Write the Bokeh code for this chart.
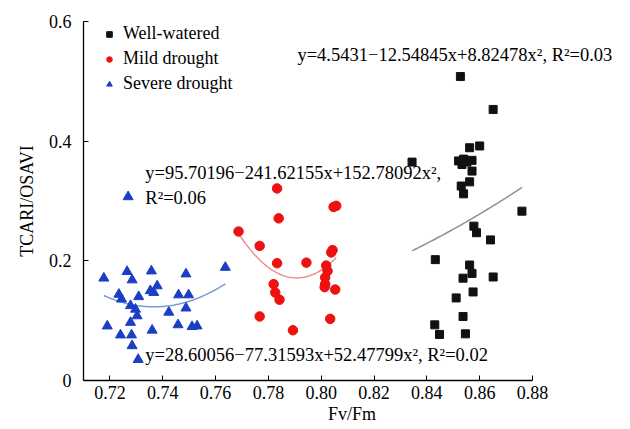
import numpy as np
from bokeh.plotting import figure
from bokeh.models import (Range1d, FixedTicker, PrintfTickFormatter, Label, Legend, LegendItem)
from bokeh.embed import file_html
from bokeh.resources import INLINE

# ---- data ----
ww_x = [0.8527, 0.8651, 0.8562, 0.8600, 0.8344, 0.8520, 0.8539, 0.8552, 0.8571, 0.8533,
        0.8571, 0.8562, 0.8530, 0.8539, 0.8578, 0.8588, 0.8641, 0.8432, 0.8562, 0.8571,
        0.8537, 0.8651, 0.8575, 0.8511, 0.8537, 0.8430, 0.8448, 0.8546, 0.8760]
ww_y = [0.508, 0.453, 0.389, 0.392, 0.365, 0.367, 0.370, 0.365, 0.368, 0.361,
        0.350, 0.332, 0.325, 0.312, 0.258, 0.247, 0.235, 0.202, 0.193, 0.179,
        0.171, 0.173, 0.148, 0.138, 0.107, 0.093, 0.077, 0.078, 0.283]

md_x = [0.7833, 0.8047, 0.8057, 0.7839, 0.7687, 0.7767, 0.8038, 0.8043, 0.7833, 0.7944,
        0.8019, 0.8024, 0.8015, 0.8015, 0.8013, 0.8053, 0.7820, 0.7826, 0.7842, 0.7767,
        0.8034, 0.7893]
md_y = [0.321, 0.290, 0.292, 0.271, 0.249, 0.225, 0.214, 0.218, 0.196, 0.197,
        0.192, 0.183, 0.172, 0.161, 0.156, 0.152, 0.161, 0.147, 0.135, 0.107,
        0.103, 0.084]

sd_x = [0.7269, 0.7177, 0.7265, 0.7284, 0.7357, 0.7488, 0.7637, 0.7234, 0.7244, 0.7309,
        0.7353, 0.7379, 0.7366, 0.7460, 0.7498, 0.7278, 0.7297, 0.7303, 0.7423, 0.7488,
        0.7278, 0.7190, 0.7360, 0.7458, 0.7511, 0.7530, 0.7240, 0.7282, 0.7284, 0.7307]
sd_y = [0.307, 0.171, 0.182, 0.168, 0.183, 0.178, 0.189, 0.144, 0.136, 0.140,
        0.150, 0.158, 0.147, 0.143, 0.143, 0.125, 0.119, 0.108, 0.114, 0.121,
        0.097, 0.091, 0.084, 0.093, 0.090, 0.091, 0.076, 0.076, 0.058, 0.035]

# quadratic fit coefficients printed on the chart (c0, c1, c2)
ww_coef = [4.5431, -12.54845, 8.82478]
md_coef = [95.70196, -241.62155, 152.78092]
sd_coef = [28.60056, -77.31593, 52.47799]

ww_eq = "y=4.5431\u221212.54845x+8.82478x\u00b2, R\u00b2=0.03"
md_eq = "y=95.70196\u2212241.62155x+152.78092x\u00b2,"
md_r2 = "R\u00b2=0.06"
sd_eq = "y=28.60056\u221277.31593x+52.47799x\u00b2, R\u00b2=0.02"

series_names = ["Well-watered", "Mild drought", "Severe drought"]
x_ticks = [0.72, 0.74, 0.76, 0.78, 0.80, 0.82, 0.84, 0.86, 0.88]
y_ticks = [0, 0.2, 0.4, 0.6]

FONT = "Liberation Serif"

# frame extends to the right so the top-right equation is not clipped;
# the visible x axis stops at 0.88 via axis bounds
p = figure(width=630, height=429, output_backend="svg", toolbar_location=None,
           x_range=Range1d(0.71, 0.71 + 537 * 0.17 / 449), y_range=Range1d(0, 0.6),
           min_border_left=83, min_border_right=10, min_border_top=21, min_border_bottom=49)
p.outline_line_color = None
p.xgrid.visible = False
p.ygrid.visible = False
p.background_fill_color = "white"

def fit_curve(xs, coef):
    cx = np.linspace(min(xs), max(xs), 80)
    cy = coef[0] + coef[1] * cx + coef[2] * cx ** 2
    return cx, cy

for xs, coef, col in [(ww_x, ww_coef, "#8f8f8f"), (md_x, md_coef, "#ee8f8f"), (sd_x, sd_coef, "#7399d8")]:
    cx, cy = fit_curve(xs, coef)
    p.line(cx, cy, line_color=col, line_width=1.5)

r_ww = p.scatter(ww_x, ww_y, marker="square", size=8, fill_color="#111111", line_color="#111111")
r_md = p.scatter(md_x, md_y, marker="circle", size=9.5, fill_color="#ee1111", line_color="#ee1111")
r_sd = p.scatter(sd_x, sd_y, marker="triangle", size=10, fill_color="#1b3fc4", line_color="#1b3fc4")

legend = Legend(items=[LegendItem(label=series_names[0], renderers=[r_ww]),
                       LegendItem(label=series_names[1], renderers=[r_md]),
                       LegendItem(label=series_names[2], renderers=[r_sd])],
                location=(19, 284), margin=0, padding=0, spacing=0,
                glyph_width=14, glyph_height=14, label_height=25, label_standoff=7,
                border_line_color=None, background_fill_alpha=0,
                label_text_font=FONT, label_text_font_size="18px", label_text_color="black")
p.add_layout(legend)

# axes
for ax in [p.xaxis[0], p.yaxis[0]]:
    ax.axis_line_color = "black"
    ax.axis_line_width = 1.3
    ax.major_tick_line_color = "black"
    ax.major_tick_in = 5
    ax.major_tick_out = 0
    ax.minor_tick_line_color = None
    ax.major_label_text_font = FONT
    ax.major_label_text_font_size = "18px"
    ax.major_label_text_color = "black"
    ax.axis_label_text_font = FONT
    ax.axis_label_text_font_size = "18px"
    ax.axis_label_text_font_style = "normal"
    ax.axis_label_text_color = "black"

p.xaxis.ticker = FixedTicker(ticks=x_ticks)
p.xaxis.formatter = PrintfTickFormatter(format="%.2f")
p.xaxis.bounds = (0.71, 0.88)
p.xaxis.axis_label = "Fv/Fm"
p.xaxis.major_label_standoff = 5
p.xaxis.axis_label_standoff = 2

p.yaxis.ticker = FixedTicker(ticks=y_ticks)
p.yaxis.major_label_overrides = {0: "0", 0.2: "0.2", 0.4: "0.4", 0.6: "0.6"}
p.yaxis.axis_label = "TCARI/OSAVI"
p.yaxis.major_label_standoff = 12
p.yaxis.axis_label_standoff = 9

def add_label(x, y, txt):
    p.add_layout(Label(x=x, y=y, text=txt, text_font=FONT, text_font_size="18.5px",
                       text_color="black", text_align="left", text_baseline="middle"))

add_label(0.791, 0.5433, ww_eq)
add_label(0.7334, 0.3467, md_eq)
add_label(0.7334, 0.305, md_r2)
add_label(0.7334, 0.0433, sd_eq)

open("out.html", "w").write(file_html(p, INLINE))
